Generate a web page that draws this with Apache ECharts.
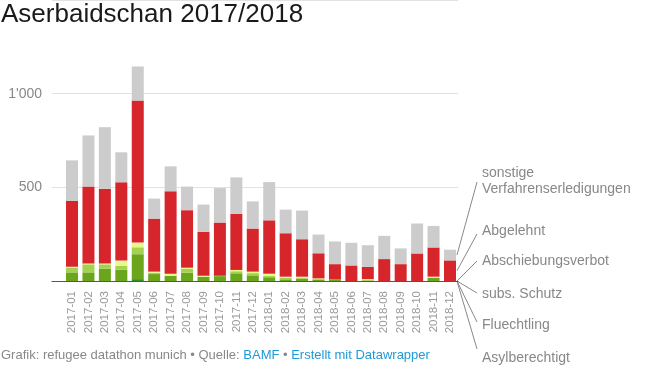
<!DOCTYPE html>
<html><head><meta charset="utf-8">
<script src="https://cdn.jsdelivr.net/npm/echarts@6/dist/echarts.min.js"></script>
<style>html,body{margin:0;padding:0;background:#fff}#c{width:655px;height:373px}</style>
</head><body><div id="c"></div>
<script>
const categories = ['2017-01','2017-02','2017-03','2017-04','2017-05','2017-06','2017-07','2017-08','2017-09','2017-10','2017-11','2017-12',
  '2018-01','2018-02','2018-03','2018-04','2018-05','2018-06','2018-07','2018-08','2018-09','2018-10','2018-11','2018-12'];
const asylberechtigt     = [0,0,0,0,10,0,0,0,0,0,0,0, 0,0,0,0,0,0,0,0,0,0,0,0];
const fluechtling        = [46,46,66,60,133,37,28,44,23,26,41,30, 20,9,12,9,9,0,0,0,0,0,16,0];
const subsSchutz         = [25,43,23,21,37,7,0,21,0,2,11,12, 8,7,6,0,0,0,5,0,0,0,0,0];
const abschiebungsverbot = [5,5,5,28,25,6,11,6,5,0,7,8, 11,7,5,5,0,0,5,0,0,0,7,0];
const abgelehnt          = [351,410,399,418,758,283,440,307,234,284,299,230, 285,232,200,134,81,83,66,117,90,147,156,110];
const sonstige           = [217,273,328,160,182,107,133,126,146,184,195,145, 204,126,153,100,121,121,115,124,84,160,115,57];
const yTicks = [500, 1000];
const seriesNames = ['Asylberechtigt','Fluechtling','subs. Schutz','Abschiebungsverbot','Abgelehnt','sonstige Verfahrenserledigungen'];
const legendLabels = ['Asylberechtigt','Fluechtling','subs. Schutz','Abschiebungsverbot','Abgelehnt','sonstige\nVerfahrenserledigungen'];
const seriesData = [asylberechtigt, fluechtling, subsSchutz, abschiebungsverbot, abgelehnt, sonstige];
const colors = ['#2e8b2e','#6ba51c','#a2d24f','#e6f88a','#d7262b','#cccccc'];

const FONT = '"Liberation Sans", Arial, sans-serif';
const chart = echarts.init(document.getElementById('c'), null, {renderer:'canvas'});
const fmt = v => String(v).replace(/\B(?=(\d{3})+(?!\d))/g, "'");

chart.setOption({
  animation: false,
  title: {
    text: 'Aserbaidschan 2017/2018', left: 1, top: 2, padding: 0,
    textStyle: {fontFamily: FONT, fontSize: 26, fontWeight: 'normal', color: '#1a1a1a'}
  },
  grid: [
    {left: 52, right: 197, top: -1, bottom: 92},
    {left: 63.8, right: 196.8, top: -1, bottom: 92}
  ],
  xAxis: [
    {gridIndex: 0, type: 'value', min: 0, max: 1, show: true,
      axisLine: {show: true, onZero: false, lineStyle: {color: '#555', width: 1.2}},
      axisTick: {show: false}, axisLabel: {show: false}, splitLine: {show: false}},
    {gridIndex: 1, type: 'category', data: categories,
      axisLine: {show: false}, axisTick: {show: false},
      axisLabel: {rotate: 90, margin: 10, color: '#999', fontSize: 11.5, fontFamily: FONT, interval: 0}}
  ],
  yAxis: [
    {gridIndex: 0, type: 'value', min: 0, max: 1500, interval: 500,
      axisLine: {show: false}, axisTick: {show: false},
      axisLabel: {show: true, showMinLabel: false, showMaxLabel: false, margin: 10, color: '#888', fontSize: 14, fontFamily: FONT,
        formatter: v => yTicks.includes(v) ? fmt(v) : ''},
      splitLine: {show: true, lineStyle: {color: '#e2e2e2', width: 1}}},
    {gridIndex: 1, type: 'value', min: 0, max: 1500, show: false, splitLine: {show: false}}
  ],
  series: seriesNames.map((n, i) => ({
    name: n, type: 'bar', stack: 'total', xAxisIndex: 1, yAxisIndex: 1,
    barWidth: 12, data: seriesData[i], itemStyle: {color: colors[i]}
  }))
});

// direct labels with leader lines
const labelCenters = [358, 325, 294, 261, 231, 181];
const lineEnds = [349, 322, 293, 261, 234, 182];
const last = categories.length - 1;
let cum = 0;
const graphics = [];
seriesData.forEach((arr, i) => {
  const v = arr[last];
  const mid = cum + v / 2;
  cum += v;
  const p = chart.convertToPixel({xAxisIndex: 1, yAxisIndex: 1}, [last, mid]);
  const sx = p[0] + 7;
  graphics.push({type: 'line', shape: {x1: sx, y1: p[1], x2: 477, y2: lineEnds[i]},
    style: {stroke: '#888', lineWidth: 1}, silent: true});
  graphics.push({type: 'text', x: 482, y: labelCenters[i],
    style: {text: legendLabels[i], fill: '#888', font: '14px ' + FONT, textVerticalAlign: 'middle', lineHeight: 16.5}});
});
graphics.push({type: 'text', x: 1, y: 355, style: {
  text: '{g|Grafik: refugee datathon munich • Quelle: }{b|BAMF}{g| • }{b|Erstellt mit Datawrapper}',
  textVerticalAlign: 'middle',
  rich: {g: {fill: '#888', fontSize: 13, fontFamily: FONT}, b: {fill: '#1f9ad6', fontSize: 13, fontFamily: FONT}}
}});
chart.setOption({graphic: graphics});
</script></body></html>
